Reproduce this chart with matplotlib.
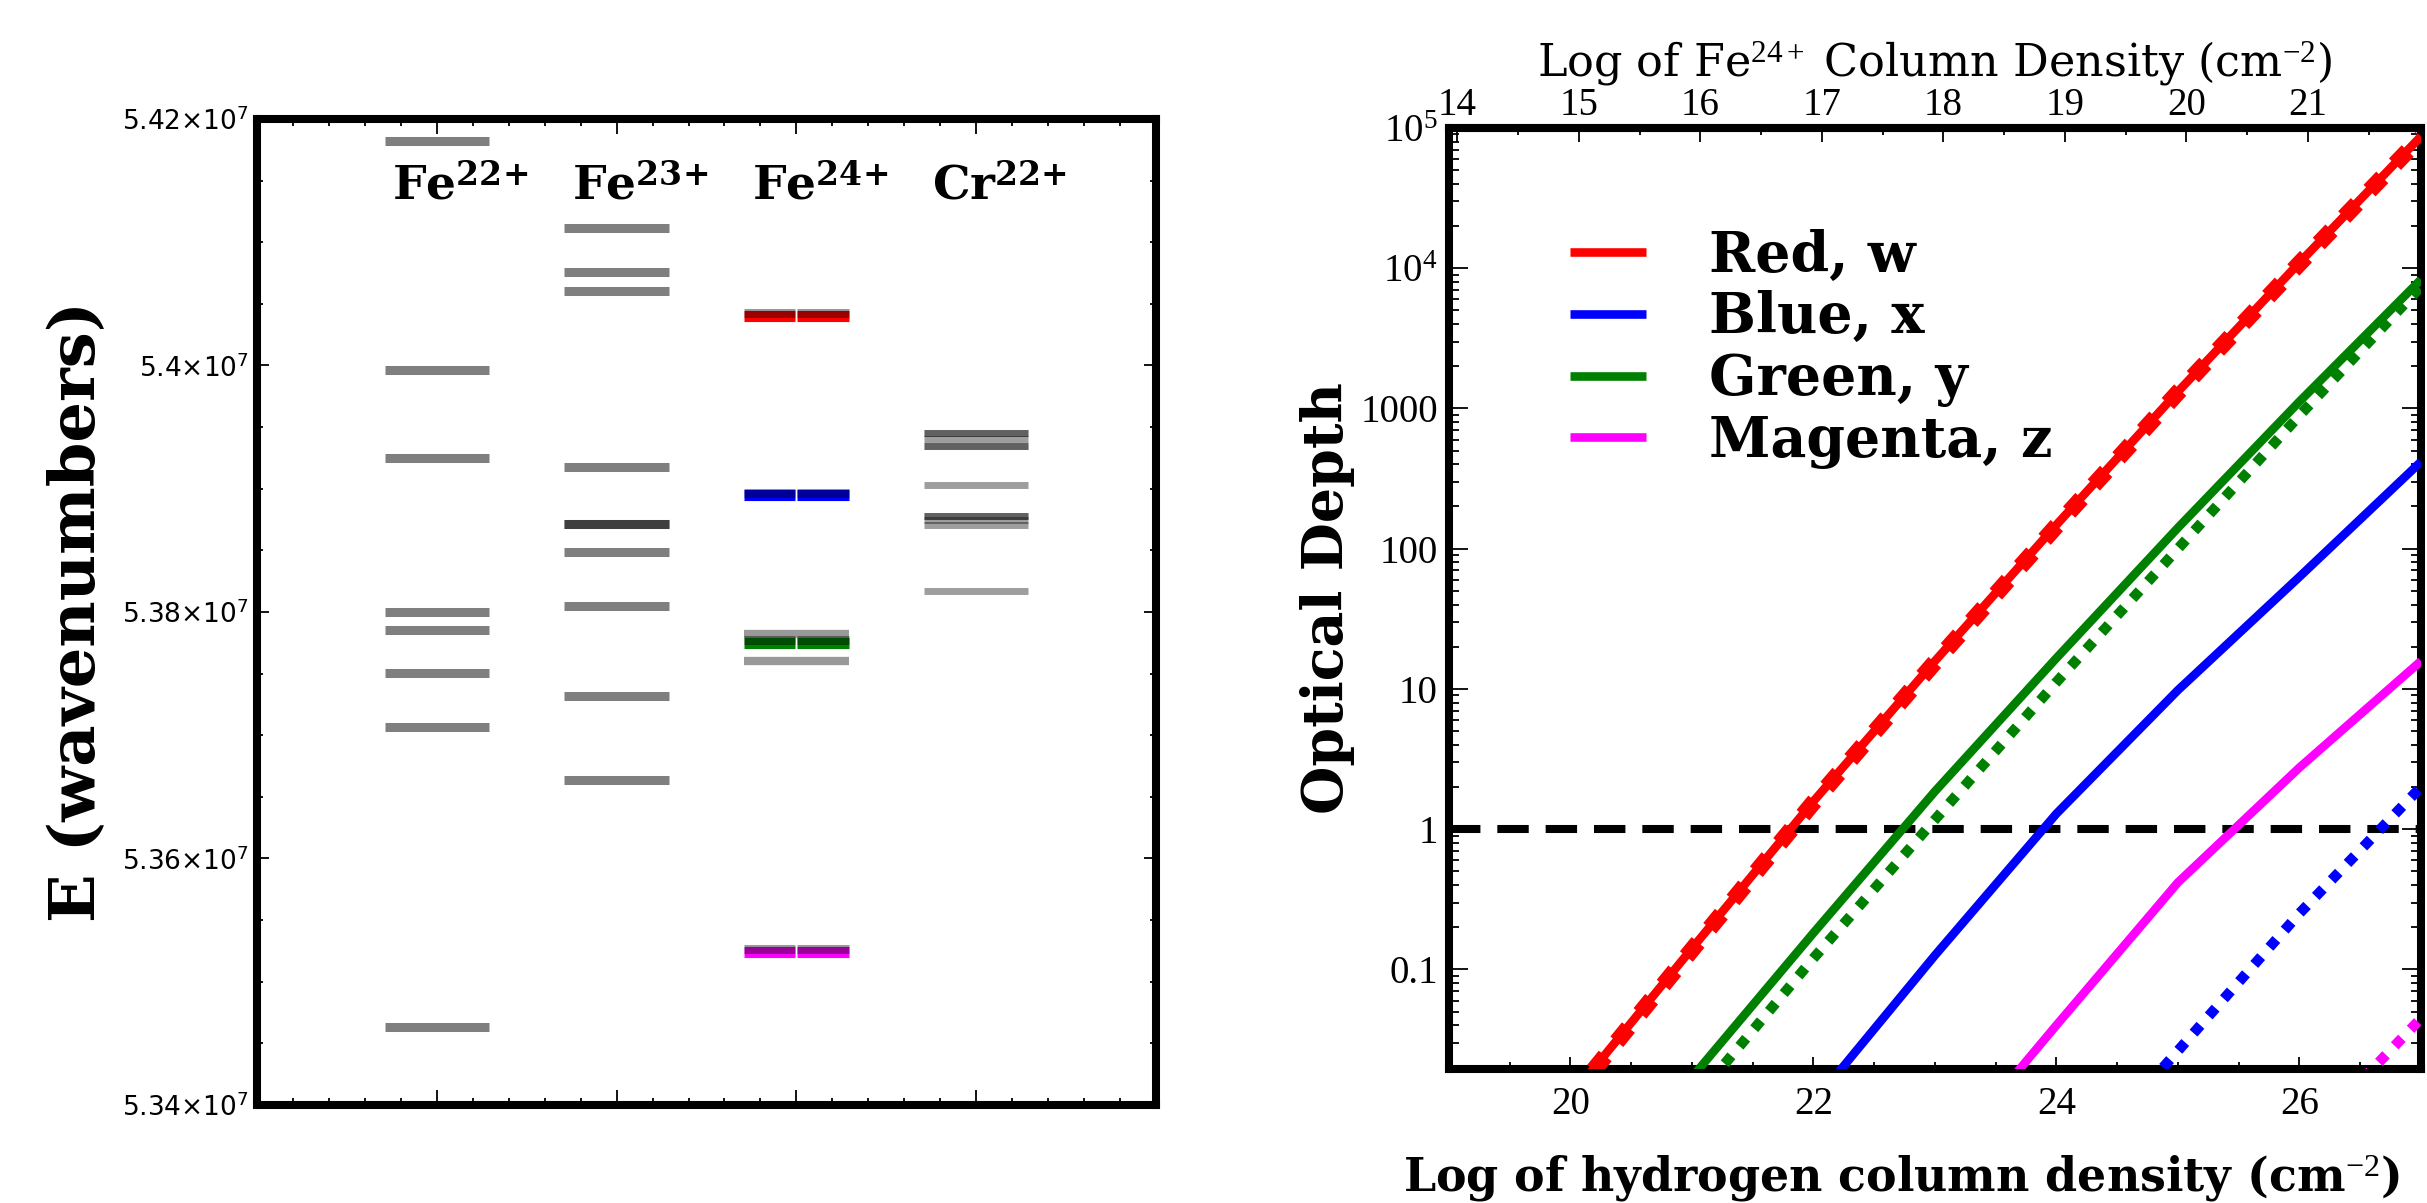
import matplotlib
matplotlib.use("Agg")
import matplotlib.pyplot as plt
from matplotlib.ticker import FixedLocator, FixedFormatter, MultipleLocator, LogLocator, NullFormatter

plt.rcParams["mathtext.fontset"] = "custom"
plt.rcParams["mathtext.rm"] = "Liberation Serif"
plt.rcParams["mathtext.it"] = "Liberation Serif:italic"
plt.rcParams["mathtext.bf"] = "DejaVu Serif:bold"
plt.rcParams["mathtext.sf"] = "DejaVu Sans"

# ---- left panel: level energies (cm^-1) ----
ION_LABELS = [r"$\mathbf{Fe}^{\mathbf{22{+}}}$", r"$\mathbf{Fe}^{\mathbf{23{+}}}$",
              r"$\mathbf{Fe}^{\mathbf{24{+}}}$", r"$\mathbf{Cr}^{\mathbf{22{+}}}$"]
FE22_LEVELS = [5.41822e7, 5.39966e7, 5.39247e7, 5.37996e7, 5.37857e7, 5.37506e7, 5.37063e7, 5.34629e7]
FE23_LEVELS = [5.41118e7, 5.40761e7, 5.40607e7, 5.39177e7, 5.38712e7, 5.38712e7, 5.38487e7,
               5.38046e7, 5.37315e7, 5.36634e7]
FE24_LEVELS = [5.37823e7, 5.37605e7]
FE24_LINES = [5.40405e7, 5.38945e7, 5.37750e7, 5.35245e7]
FE24_LINE_NAMES = ["red", "blue", "green", "magenta"]
CR22_LEVELS = [5.39455e7, 5.39455e7, 5.39404e7, 5.39347e7, 5.39347e7, 5.39033e7, 5.38779e7,
               5.38779e7, 5.38747e7, 5.38709e7, 5.38171e7]
E_TICKS = [5.34e7, 5.36e7, 5.38e7, 5.40e7, 5.42e7]
E_TICK_LABELS = [r"$\mathsf{5.34{\times}10^{7}}$", r"$\mathsf{5.36{\times}10^{7}}$",
                 r"$\mathsf{5.38{\times}10^{7}}$", r"$\mathsf{5.4{\times}10^{7}}$",
                 r"$\mathsf{5.42{\times}10^{7}}$"]

# ---- right panel: optical depth vs log N_H ----
FE_OFFSET = 5.07  # log N(Fe24+) = log N(H) - offset
FE_TICKS = [14, 15, 16, 17, 18, 19, 20, 21]
NH_RED = [20, 21, 22, 23, 24, 25, 26, 27]
TAU_RED = [0.0123, 0.141, 1.58, 15.8, 148, 1318, 10960, 87100]
TAU_RED_DOT = [0.0120, 0.138, 1.55, 15.5, 145, 1300, 10800, 86000]
NH_GREEN = [20, 21, 22, 23, 24, 25, 26, 27]
TAU_GREEN = [0.0016, 0.017, 0.182, 1.86, 16.6, 141, 1120, 8300]
TAU_GREEN_DOT = [0.00105, 0.0112, 0.120, 1.17, 11.2, 100, 890, 7400]
NH_BLUE = [21, 22, 23, 24, 25, 26, 27]
TAU_BLUE = [0.001, 0.0112, 0.126, 1.29, 9.8, 63, 417]
NH_BLUE_DOT = [24, 25, 26, 27]
TAU_BLUE_DOT = [0.0028, 0.0263, 0.251, 2.0]
NH_MAGENTA = [23, 24, 25, 26, 27]
TAU_MAGENTA = [0.0037, 0.040, 0.417, 2.75, 15.8]
NH_MAGENTA_DOT = [26, 27]
TAU_MAGENTA_DOT = [0.0056, 0.0447]
LEGEND_LABELS = ["Red, w", "Blue, x", "Green, y", "Magenta, z"]
TAU_TICKS = [0.1, 1, 10, 100, 1000, 1e4, 1e5]
TAU_TICK_LABELS = ["0.1", "1", "10", "100", "1000", r"$10^{4}$", r"$10^{5}$"]

COLORS = {"red": "#ff0000", "blue": "#0000ff", "green": "#008000", "magenta": "#ff00ff"}
SPINE_W = 5.8
HALF = 0.29

fig = plt.figure(figsize=(24.27, 12.03), dpi=100)

# ---------------- left panel ----------------
ax1 = fig.add_axes([0.1059, 0.0815, 0.3704, 0.8196])


def draw_levels(x, levels, alpha, lw):
    ax1.hlines(levels, x - HALF, x + HALF, colors="black", alpha=alpha,
               linewidth=lw, capstyle="butt", zorder=2)


draw_levels(1, FE22_LEVELS, 0.5, 6.5)
draw_levels(2, FE23_LEVELS, 0.5, 6.5)
draw_levels(3, FE24_LEVELS, 0.4, 6.0)
draw_levels(4, CR22_LEVELS, 0.38, 5.0)
# Fe24+ lines used in the right panel: coloured, split in two halves, grey level on top
for energy, name in zip(FE24_LINES, FE24_LINE_NAMES):
    for x0, x1 in [(3 - HALF, 2.995), (3.005, 3 + HALF)]:
        ax1.hlines(energy, x0, x1, colors=COLORS[name], linewidth=8, capstyle="butt", zorder=3)
        ax1.hlines(energy + 2000, x0, x1, colors="black", alpha=0.4, linewidth=6.5,
                   capstyle="butt", zorder=4)

for i, label in enumerate(ION_LABELS):
    ax1.text(i + 1 + 0.13, 5.4134e7, label, ha="center", va="baseline", fontsize=34)

ax1.set_xlim(0, 5)
ax1.set_ylim(5.34e7, 5.42e7)
ax1.xaxis.set_major_locator(MultipleLocator(1))
ax1.xaxis.set_minor_locator(MultipleLocator(0.2))
ax1.yaxis.set_major_locator(FixedLocator(E_TICKS))
ax1.yaxis.set_major_formatter(FixedFormatter(E_TICK_LABELS))
ax1.yaxis.set_minor_locator(MultipleLocator(0.005e7))
ax1.tick_params(which="both", direction="in", top=True, right=True, labelbottom=False,
                width=1.3, labelsize=19, pad=6)
ax1.tick_params(axis="y", which="major", length=8.5)
ax1.tick_params(axis="y", which="minor", length=4.5)
ax1.tick_params(axis="x", which="major", length=11)
ax1.tick_params(axis="x", which="minor", length=5)
ax1.set_ylabel("E (wavenumbers)", fontfamily="DejaVu Serif", fontweight="bold",
               fontsize=46, labelpad=10)
for s in ax1.spines.values():
    s.set_linewidth(SPINE_W)

# ---------------- right panel ----------------
ax2 = fig.add_axes([0.5970, 0.1114, 0.4005, 0.7822])
ax2.set_yscale("log")
ax2.axhline(1, color="black", linewidth=5.8, linestyle=(0, (3.9, 2.1)), zorder=2)

solid_kw = dict(linewidth=6.2, solid_capstyle="butt", zorder=3)
dot_kw = dict(linewidth=7.5, linestyle=(0, (1.0, 1.2)), dash_capstyle="butt", zorder=4)
h_red, = ax2.plot(NH_RED, TAU_RED, color=COLORS["red"], **solid_kw)
ax2.plot(NH_RED, TAU_RED_DOT, color=COLORS["red"], linewidth=12,
         linestyle=(0, (1.1, 1.1)), dash_capstyle="butt", zorder=4)
h_blue, = ax2.plot(NH_BLUE, TAU_BLUE, color=COLORS["blue"], **solid_kw)
ax2.plot(NH_BLUE_DOT, TAU_BLUE_DOT, color=COLORS["blue"], **dot_kw)
h_green, = ax2.plot(NH_GREEN, TAU_GREEN, color=COLORS["green"], **solid_kw)
ax2.plot(NH_GREEN, TAU_GREEN_DOT, color=COLORS["green"], **dot_kw)
h_mag, = ax2.plot(NH_MAGENTA, TAU_MAGENTA, color=COLORS["magenta"], **solid_kw)
ax2.plot(NH_MAGENTA_DOT, TAU_MAGENTA_DOT, color=COLORS["magenta"], **dot_kw)

ax2.set_xlim(19, 27)
ax2.set_ylim(0.0195, 1e5)
ax2.xaxis.set_major_locator(MultipleLocator(2))
ax2.xaxis.set_minor_locator(MultipleLocator(0.5))
ax2.yaxis.set_major_locator(FixedLocator(TAU_TICKS))
ax2.yaxis.set_major_formatter(FixedFormatter(TAU_TICK_LABELS))
ax2.yaxis.set_minor_locator(LogLocator(base=10, subs=range(2, 10)))
ax2.yaxis.set_minor_formatter(NullFormatter())
ax2.tick_params(which="both", direction="in", right=True, top=False, width=1.3,
                labelsize=28, labelfontfamily="Liberation Serif")
ax2.tick_params(axis="y", which="major", length=14, pad=8)
ax2.tick_params(axis="y", which="minor", length=7)
ax2.tick_params(axis="x", which="major", length=9, pad=12)
ax2.tick_params(axis="x", which="minor", length=5)
ax2.set_xlabel("Log of hydrogen column density (cm$^{-2}$)", fontfamily="DejaVu Serif",
               fontweight="bold", fontsize=33)
ax2.xaxis.set_label_coords(0.465, -0.09)
ax2.set_ylabel("Optical Depth", fontfamily="DejaVu Serif", fontweight="bold",
               fontsize=40, labelpad=4)
for s in ax2.spines.values():
    s.set_linewidth(SPINE_W)

sec = ax2.secondary_xaxis("top", functions=(lambda x: x - FE_OFFSET, lambda t: t + FE_OFFSET))
sec.xaxis.set_major_locator(FixedLocator(FE_TICKS))
sec.xaxis.set_minor_locator(MultipleLocator(0.5))
sec.tick_params(which="both", direction="in", width=1.3, labelsize=28,
                labelfontfamily="Liberation Serif", pad=3)
sec.tick_params(which="major", length=10)
sec.tick_params(which="minor", length=5)
sec.spines["top"].set_linewidth(SPINE_W)
sec.set_xlabel("Log of Fe$^{24+}$ Column Density (cm$^{-2}$)", fontfamily="DejaVu Serif",
               fontsize=32, labelpad=8)

ax2.legend([h_red, h_blue, h_green, h_mag], LEGEND_LABELS, loc="upper left",
           bbox_to_anchor=(0.1245, 0.893), frameon=False, borderpad=0, borderaxespad=0,
           handlelength=1.37, handletextpad=1.13, labelspacing=0.12,
           prop={"family": "DejaVu Serif", "weight": "bold", "size": 40})

fig.savefig("out.png", dpi=100)
